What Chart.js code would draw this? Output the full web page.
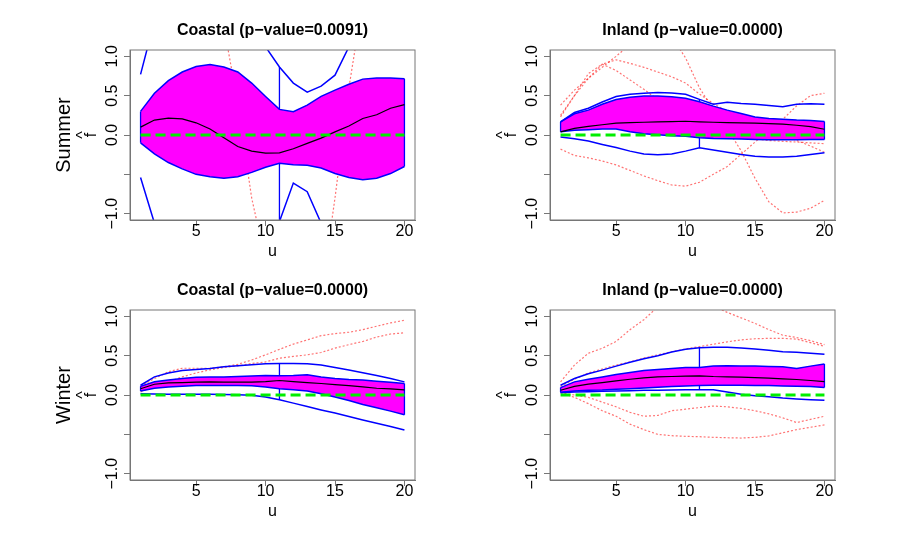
<!DOCTYPE html>
<html>
<head>
<meta charset="utf-8">
<script src="https://cdn.jsdelivr.net/npm/chart.js@4.4.1/dist/chart.umd.min.js"></script>
<style>
body { margin: 0; background: #fff; }
#page { position: relative; width: 900px; height: 540px; overflow: hidden; background: #fff; }
#page canvas { position: absolute; }
</style>
</head>
<body>
<div id="page">
  <canvas id="c1" width="450" height="270" style="left:0px;top:0px"></canvas>
  <canvas id="c2" width="450" height="270" style="left:420px;top:0px"></canvas>
  <canvas id="c3" width="450" height="270" style="left:0px;top:260px"></canvas>
  <canvas id="c4" width="450" height="270" style="left:420px;top:260px"></canvas>
</div>
<script>
// grid of u values and axis ticks
const u = [1, 2, 3, 4, 5, 6, 7, 8, 9, 10, 11, 12, 13, 14, 15, 16, 17, 18, 19, 20];
const xTicks = [5, 10, 15, 20];
const yTicks = [-1, -0.5, 0, 0.5, 1];
const yTickLabels = ['\u22121.0', '', '0.0', '0.5', '1.0'];
const whiskerAt = 11;

// Summer, coastal
const scUp  = [0.30, 0.53, 0.69, 0.80, 0.87, 0.895, 0.865, 0.80, 0.66, 0.49, 0.325, 0.295, 0.38, 0.49, 0.57, 0.645, 0.71, 0.725, 0.725, 0.715];
const scLo  = [-0.10, -0.24, -0.35, -0.43, -0.50, -0.53, -0.55, -0.53, -0.475, -0.41, -0.36, -0.377, -0.385, -0.42, -0.49, -0.54, -0.57, -0.55, -0.49, -0.40];
const scMed = [0.10, 0.19, 0.215, 0.205, 0.155, 0.077, -0.034, -0.146, -0.205, -0.23, -0.227, -0.175, -0.107, -0.04, 0.04, 0.115, 0.21, 0.257, 0.34, 0.385];
const scMax = [0.77, 1.45, 1.9, 2.2, 2.4, 2.5, 2.4, 2.1, 1.6, 1.12, 0.865, 0.66, 0.545, 0.62, 0.76, 1.12, 1.5, 1.8, 2.0, 2.1];
const scMin = [-0.54, -1.12, -1.6, -2.0, -2.2, -2.3, -2.2, -2.0, -1.7, -1.4, -1.1, -0.61, -0.72, -1.12, -1.5, -1.8, -2.0, -2.0, -1.9, -1.7];
const scOut1 = [2.0, 2.6, 3.0, 3.1, 2.9, 2.3, 1.38, 0.4, -0.8, -1.6, -2.0, -2.3, -2.4, -2.3, -2.0, -1.6, -1.3, -1.2, -1.3, -1.5];
const scOut2 = [-1.5, -1.9, -2.2, -2.4, -2.5, -2.5, -2.4, -2.3, -2.2, -2.1, -2.0, -1.9, -1.8, -2.05, -0.8, 0.6, 1.7, 2.5, 3.0, 3.2];

// Summer, inland
const siUp  = [0.167, 0.27, 0.316, 0.39, 0.45, 0.48, 0.495, 0.495, 0.487, 0.466, 0.423, 0.367, 0.316, 0.274, 0.23, 0.21, 0.20, 0.19, 0.184, 0.171];
const siLo  = [0.04, 0.06, 0.068, 0.077, 0.077, 0.04, 0.017, 0.004, -0.01, -0.017, -0.034, -0.043, -0.047, -0.051, -0.056, -0.06, -0.06, -0.06, -0.056, -0.056];
const siMed = [0.04, 0.085, 0.11, 0.13, 0.15, 0.158, 0.162, 0.167, 0.171, 0.175, 0.167, 0.162, 0.158, 0.154, 0.15, 0.145, 0.137, 0.124, 0.107, 0.073];
const siMax = [0.167, 0.286, 0.34, 0.42, 0.49, 0.517, 0.53, 0.54, 0.534, 0.517, 0.453, 0.39, 0.415, 0.40, 0.39, 0.376, 0.36, 0.39, 0.397, 0.39];
const siMin = [-0.026, -0.047, -0.077, -0.12, -0.16, -0.205, -0.24, -0.252, -0.24, -0.205, -0.162, -0.19, -0.218, -0.248, -0.27, -0.278, -0.278, -0.27, -0.248, -0.226];
const siOut1 = [0.38, 0.57, 0.72, 0.86, 1.0, 1.15, 1.25, 1.3, 1.25, 0.98, 0.6, 0.32, 0.08, -0.2, -0.55, -0.85, -0.99, -0.98, -0.93, -0.83];
const siOut2 = [0.25, 0.5, 0.72, 0.9, 0.955, 0.91, 0.86, 0.8, 0.74, 0.66, 0.52, 0.4, 0.3, 0.22, 0.15, 0.08, 0.0, -0.07, -0.14, -0.22];
const siOut3 = [0.23, 0.5, 0.78, 0.9, 0.82, 0.7, 0.58, 0.45, 0.33, 0.2, 0.1, 0.04, 0.0, -0.03, -0.05, -0.07, -0.08, -0.09, -0.1, -0.11];
const siOut4 = [-0.18, -0.26, -0.29, -0.33, -0.38, -0.45, -0.52, -0.58, -0.635, -0.65, -0.6, -0.5, -0.4, -0.245, -0.09, 0.05, 0.2, 0.37, 0.5, 0.53];

// Winter, coastal
const wcUp  = [0.11, 0.167, 0.19, 0.21, 0.227, 0.23, 0.23, 0.235, 0.24, 0.248, 0.244, 0.248, 0.257, 0.23, 0.21, 0.197, 0.19, 0.176, 0.163, 0.146];
const wcLo  = [0.05, 0.086, 0.103, 0.11, 0.12, 0.12, 0.12, 0.12, 0.116, 0.103, 0.08, 0.068, 0.05, 0.017, -0.026, -0.07, -0.12, -0.163, -0.205, -0.25];
const wcMed = [0.08, 0.137, 0.154, 0.158, 0.163, 0.167, 0.163, 0.163, 0.163, 0.171, 0.184, 0.171, 0.158, 0.146, 0.133, 0.12, 0.103, 0.086, 0.077, 0.064];
const wcMax = [0.124, 0.23, 0.28, 0.31, 0.325, 0.338, 0.36, 0.373, 0.385, 0.398, 0.40, 0.40, 0.398, 0.38, 0.35, 0.317, 0.283, 0.248, 0.21, 0.167];
const wcMin = [0.017, 0.013, 0.011, 0.01, 0.009, 0.008, 0.005, 0.004, -0.004, -0.026, -0.06, -0.103, -0.146, -0.19, -0.23, -0.274, -0.317, -0.36, -0.40, -0.445];
const wcOut1 = [0.11, 0.21, 0.295, 0.34, 0.34, 0.34, 0.36, 0.39, 0.445, 0.51, 0.58, 0.647, 0.70, 0.754, 0.78, 0.797, 0.83, 0.874, 0.916, 0.95];
const wcOut2 = [0.04, 0.11, 0.167, 0.23, 0.28, 0.32, 0.35, 0.37, 0.40, 0.42, 0.467, 0.49, 0.51, 0.54, 0.595, 0.64, 0.68, 0.736, 0.775, 0.79];

// Winter, inland
const wiUp  = [0.094, 0.167, 0.20, 0.23, 0.26, 0.286, 0.31, 0.325, 0.338, 0.35, 0.35, 0.367, 0.372, 0.37, 0.367, 0.363, 0.36, 0.338, 0.367, 0.393];
const wiLo  = [0.034, 0.051, 0.06, 0.064, 0.073, 0.08, 0.09, 0.098, 0.108, 0.115, 0.12, 0.124, 0.124, 0.124, 0.12, 0.12, 0.115, 0.111, 0.107, 0.094];
const wiMed = [0.06, 0.11, 0.137, 0.158, 0.18, 0.20, 0.218, 0.23, 0.235, 0.24, 0.244, 0.235, 0.23, 0.226, 0.222, 0.214, 0.205, 0.197, 0.184, 0.171];
const wiMax = [0.124, 0.21, 0.27, 0.316, 0.367, 0.415, 0.46, 0.50, 0.547, 0.58, 0.60, 0.607, 0.607, 0.598, 0.585, 0.568, 0.55, 0.543, 0.53, 0.517];
const wiMin = [0.03, 0.038, 0.042, 0.047, 0.051, 0.055, 0.06, 0.06, 0.064, 0.066, 0.068, 0.068, 0.038, 0.009, -0.009, -0.021, -0.038, -0.05, -0.06, -0.068];
const wiOut1 = [0.167, 0.38, 0.53, 0.594, 0.68, 0.83, 0.957, 1.12, 1.2, 1.22, 1.2, 1.13, 1.05, 0.98, 0.91, 0.83, 0.76, 0.73, 0.69, 0.64];
const wiOut2 = [0.11, 0.2, 0.28, 0.33, 0.38, 0.42, 0.47, 0.51, 0.55, 0.585, 0.615, 0.645, 0.675, 0.70, 0.715, 0.72, 0.72, 0.71, 0.665, 0.62];
const wiOut3 = [0.03, 0.0, -0.03, -0.09, -0.15, -0.22, -0.27, -0.26, -0.2, -0.18, -0.16, -0.14, -0.15, -0.17, -0.2, -0.24, -0.29, -0.35, -0.31, -0.27];
const wiOut4 = [0.03, -0.03, -0.11, -0.2, -0.27, -0.37, -0.44, -0.5, -0.517, -0.525, -0.53, -0.538, -0.543, -0.547, -0.538, -0.52, -0.48, -0.44, -0.41, -0.38];

const FONT = '"Liberation Sans", Arial, Helvetica, sans-serif';
const AXIS = '#777';
const BLUE = '#0000ff';

function pts(ys) {
    return u.map((x, i) => ({ x: x, y: ys[i] }));
}

// band ends and the two whiskers at the middle point
function fence(lo, up, mn, mx) {
    const k = u.indexOf(whiskerAt);
    const n = u.length - 1;
    return [
        { x: u[0], y: lo[0] }, { x: u[0], y: up[0] }, { x: u[0], y: null },
        { x: u[n], y: lo[n] }, { x: u[n], y: up[n] }, { x: u[n], y: null },
        { x: u[k], y: mx[k] }, { x: u[k], y: up[k] }, { x: u[k], y: null },
        { x: u[k], y: lo[k] }, { x: u[k], y: mn[k] }
    ];
}

const frame = {
    id: 'frame',
    afterDraw(chart) {
        const a = chart.chartArea;
        const ctx = chart.ctx;
        ctx.save();
        ctx.strokeStyle = AXIS;
        ctx.lineWidth = 1;
        ctx.strokeRect(a.left, a.top, a.right - a.left, a.bottom - a.top);
        const row = chart.options.plugins.frame.row;
        if (row) {
            ctx.fillStyle = '#000';
            ctx.font = '20px ' + FONT;
            ctx.textAlign = 'center';
            ctx.textBaseline = 'middle';
            ctx.translate(64, (a.top + a.bottom) / 2);
            ctx.rotate(-Math.PI / 2);
            ctx.fillText(row, 0, 0);
        }
        ctx.restore();
    }
};

function panel(id, title, row, up, lo, med, mx, mn, outs) {
    const datasets = [];
    outs.forEach(o => datasets.push({
        data: pts(o), borderColor: 'rgba(255,0,0,0.55)', borderWidth: 1.2,
        borderDash: [2, 2], order: 9
    }));
    datasets.push({ data: pts(lo), borderColor: BLUE, borderWidth: 1.5, order: 5 });
    datasets.push({ data: pts(up), borderColor: BLUE, borderWidth: 1.5, order: 5,
        fill: '-1', backgroundColor: '#ff00ff' });
    datasets.push({ data: fence(lo, up, mn, mx), borderColor: BLUE, borderWidth: 1.3, order: 4 });
    datasets.push({ data: pts(mx), borderColor: BLUE, borderWidth: 1.5, order: 4 });
    datasets.push({ data: pts(mn), borderColor: BLUE, borderWidth: 1.5, order: 4 });
    datasets.push({ data: pts(med), borderColor: '#000', borderWidth: 1.2, order: 2 });
    datasets.push({ data: u.map(x => ({ x: x, y: 0 })), borderColor: '#00ee00', borderWidth: 3,
        borderDash: [10, 5], order: 1 });

    new Chart(document.getElementById(id), {
        type: 'line',
        data: { datasets: datasets },
        plugins: [frame],
        options: {
            responsive: false,
            animation: false,
            devicePixelRatio: 1,
            layout: { padding: { left: 0, right: 35, top: 0, bottom: 0 } },
            elements: {
                point: { radius: 0 },
                line: { tension: 0, fill: false }
            },
            datasets: { line: { clip: 0 } },
            plugins: {
                legend: { display: false },
                tooltip: { enabled: false },
                frame: { row: row },
                title: {
                    display: true, text: title, color: '#000', fullSize: false,
                    font: { family: FONT, size: 16, weight: 'bold', lineHeight: 1.2 },
                    padding: { top: 21, bottom: 9.8 }
                }
            },
            scales: {
                x: {
                    type: 'linear', min: 0.24, max: 20.76,
                    afterBuildTicks: s => { s.ticks = xTicks.map(v => ({ value: v })); },
                    afterFit: s => { s.height = 50; },
                    grid: { drawOnChartArea: false, drawTicks: true, tickLength: 6, color: AXIS, tickColor: AXIS },
                    border: { display: true, color: AXIS },
                    ticks: { color: '#000', autoSkip: false, maxRotation: 0, padding: -2,
                        font: { family: FONT, size: 16, lineHeight: 1 } },
                    title: { display: true, text: 'u', color: '#000',
                        font: { family: FONT, size: 16, lineHeight: 1.2 }, padding: { top: 0, bottom: 9 } }
                },
                y: {
                    type: 'linear', min: -1.08, max: 1.08,
                    afterBuildTicks: s => { s.ticks = yTicks.map(v => ({ value: v })); },
                    afterFit: s => { s.width = 130; },
                    grid: { drawOnChartArea: false, drawTicks: true, tickLength: 6, color: AXIS, tickColor: AXIS },
                    border: { display: true, color: AXIS },
                    ticks: { color: '#000', autoSkip: false, minRotation: 90, maxRotation: 90,
                        crossAlign: 'center', padding: -4,
                        font: { family: FONT, size: 16, lineHeight: 1 },
                        callback: v => yTickLabels[yTicks.indexOf(v)] },
                    title: { display: true, text: ['^', 'f'], color: '#000',
                        font: { family: FONT, size: 16, lineHeight: 0.5 }, padding: { top: 80, bottom: 0 } }
                }
            }
        }
    });
}

panel('c1', 'Coastal (p\u2212value=0.0091)', 'Summer', scUp, scLo, scMed, scMax, scMin, [scOut1, scOut2]);
panel('c2', 'Inland (p\u2212value=0.0000)', null, siUp, siLo, siMed, siMax, siMin, [siOut1, siOut2, siOut3, siOut4]);
panel('c3', 'Coastal (p\u2212value=0.0000)', 'Winter', wcUp, wcLo, wcMed, wcMax, wcMin, [wcOut1, wcOut2]);
panel('c4', 'Inland (p\u2212value=0.0000)', null, wiUp, wiLo, wiMed, wiMax, wiMin, [wiOut1, wiOut2, wiOut3, wiOut4]);
</script>
</body>
</html>
